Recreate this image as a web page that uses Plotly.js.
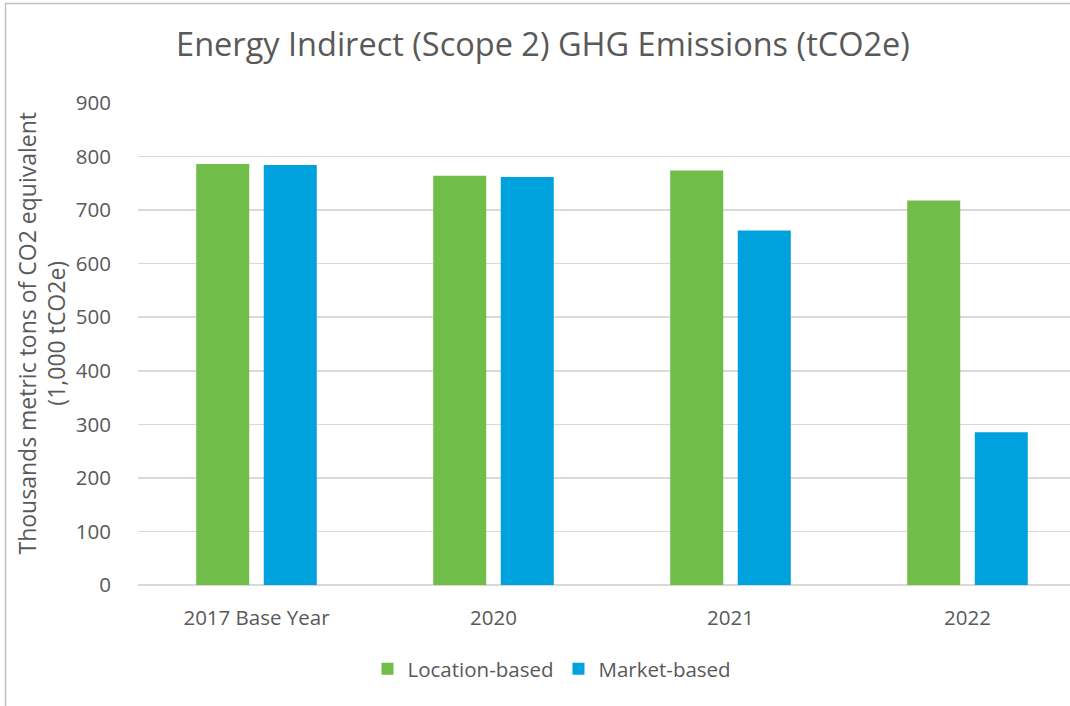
<!DOCTYPE html>
<html>
<head>
<meta charset="utf-8">
<script src="https://cdn.plot.ly/plotly-3.0.1.min.js"></script>
<style>
html,body{margin:0;padding:0;background:#fff;overflow:hidden;}
#chart{width:1070px;height:706px;}
</style>
</head>
<body>
<div id="chart"></div>
<script>
const categories = ["2017 Base Year", "2020", "2021", "2022"];
const locationBased = [786, 764, 774, 718];
const marketBased = [784, 762, 662, 285];
const seriesNames = ["Location-based", "Market-based"];
const yTickValues = [0, 100, 200, 300, 400, 500, 600, 700, 800, 900];

const W = 1070, H = 706;
const ML = 138, MR = 0, MT = 103, MB = 121;
const plotW = W - ML - MR;
const catPx = 237;
const FONT = "'Open Sans', 'DejaVu Sans', sans-serif";
const TXT = '#595959';

const traces = [
  {type: 'bar', name: seriesNames[0], x: [0,1,2,3], y: locationBased,
   marker: {color: '#70BD4A'}, hoverinfo: 'y'},
  {type: 'bar', name: seriesNames[1], x: [0,1,2,3], y: marketBased,
   marker: {color: '#00A2DD'}, hoverinfo: 'y'}
];

function px2paperX(p) { return (p - ML) / plotW; }
function px2paperY(p) { return (H - MB - p) / (H - MT - MB); }

const layout = {
  width: W, height: H,
  margin: {l: ML, r: MR, t: MT, b: MB, pad: 0, autoexpand: false},
  paper_bgcolor: '#fff', plot_bgcolor: '#fff',
  font: {family: FONT, color: TXT, size: 20},
  barmode: 'group', bargap: 0.43, bargroupgap: 0.215,
  title: {text: 'Energy Indirect (Scope 2) GHG Emissions (tCO2e)',
          font: {family: FONT, size: 32.5, color: TXT},
          xref: 'container', yref: 'container',
          x: 543 / W, xanchor: 'center', y: 1 - 45 / H, yanchor: 'middle'},
  xaxis: {
    range: [-0.5, -0.5 + plotW / catPx],
    tickmode: 'array', tickvals: [0,1,2,3], ticktext: categories,
    tickangle: 0,
    showgrid: false, zeroline: false, showline: false,
    ticks: 'outside', ticklen: 14, tickcolor: 'rgba(0,0,0,0)',
    tickfont: {family: FONT, size: 20.5, color: TXT}, fixedrange: true
  },
  yaxis: {
    range: [0, 900], tickmode: 'array', tickvals: yTickValues,
    showgrid: true, gridcolor: '#D9D9D9', gridwidth: 1.5,
    zeroline: true, zerolinecolor: '#D9D9D9', zerolinewidth: 1.5,
    showline: false,
    ticks: 'outside', ticklen: 22, tickcolor: 'rgba(0,0,0,0)',
    tickfont: {family: FONT, size: 20.5, color: TXT}, fixedrange: true
  },
  showlegend: true,
  legend: {orientation: 'h', x: px2paperX(552), xref: 'paper', xanchor: 'center',
           y: px2paperY(669), yanchor: 'middle',
           font: {family: FONT, size: 20.5, color: TXT}, itemwidth: 30,
           traceorder: 'normal'},
  annotations: [{
    text: 'Thousands metric tons of CO2 equivalent<br>(1,000 tCO2e)',
    xref: 'paper', yref: 'paper', x: px2paperX(41.5), y: px2paperY(333),
    xanchor: 'center', yanchor: 'middle', textangle: -90, showarrow: false,
    font: {family: FONT, size: 23, color: TXT}
  }],
  shapes: [{
    type: 'path', xref: 'paper', yref: 'paper',
    path: 'M ' + px2paperX(1100) + ' ' + px2paperY(3.5) + ' L ' + px2paperX(5.5) + ' ' + px2paperY(3.5) +
          ' L ' + px2paperX(5.5) + ' ' + px2paperY(720),
    line: {color: '#BFBFBF', width: 1.5}
  }]
};

Plotly.newPlot('chart', traces, layout, {displayModeBar: false, staticPlot: true});
</script>
</body>
</html>
